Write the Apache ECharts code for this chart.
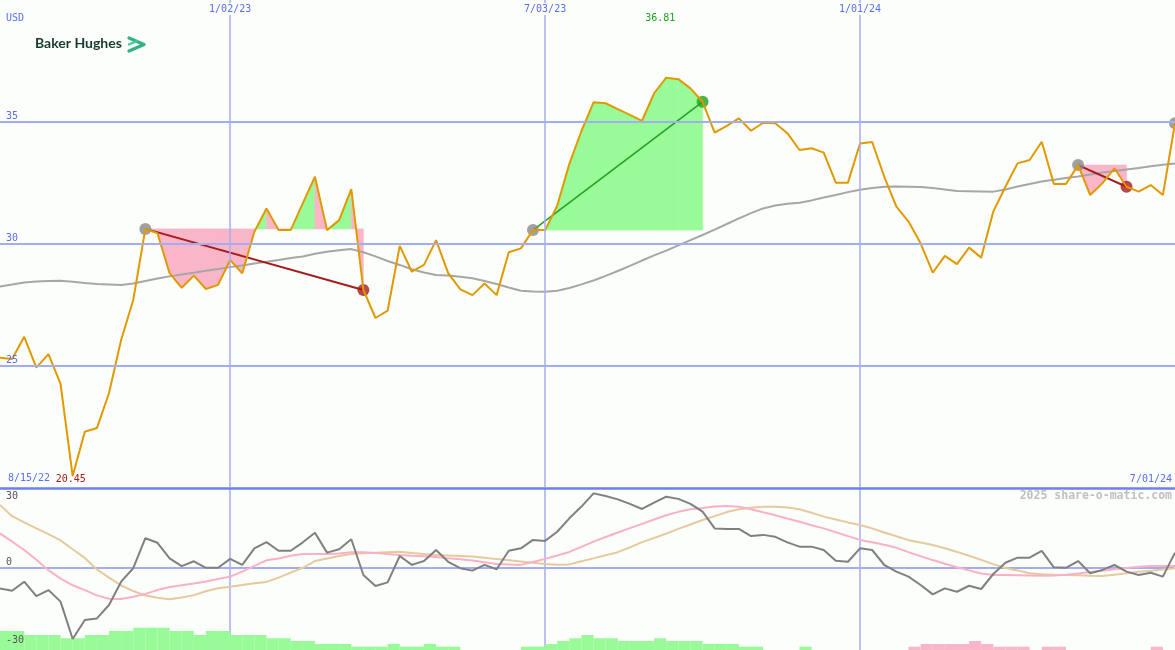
<!DOCTYPE html>
<html><head><meta charset="utf-8">
<script src="https://cdn.jsdelivr.net/npm/echarts@6/dist/echarts.min.js"></script>
<style>html,body{margin:0;padding:0;background:#fbfefb}#c{width:1175px;height:650px}</style>
</head><body><div id="c"></div>
<script>
const weeks = ['8/22/22','8/29/22','9/05/22','9/12/22','9/19/22','9/26/22','10/03/22','10/10/22','10/17/22','10/24/22','10/31/22','11/07/22','11/14/22','11/21/22','11/28/22','12/05/22','12/12/22','12/19/22','12/26/22',
'1/02/23','1/09/23','1/16/23','1/23/23','1/30/23','2/06/23','2/13/23','2/20/23','2/27/23','3/06/23','3/13/23','3/20/23','3/27/23','4/03/23','4/10/23','4/17/23','4/24/23','5/01/23','5/08/23','5/15/23','5/22/23','5/29/23','6/05/23','6/12/23','6/19/23','6/26/23',
'7/03/23','7/10/23','7/17/23','7/24/23','7/31/23','8/07/23','8/14/23','8/21/23','8/28/23','9/04/23','9/11/23','9/18/23','9/25/23','10/02/23','10/09/23','10/16/23','10/23/23','10/30/23','11/06/23','11/13/23','11/20/23','11/27/23','12/04/23','12/11/23','12/18/23','12/25/23',
'1/01/24','1/08/24','1/15/24','1/22/24','1/29/24','2/05/24','2/12/24','2/19/24','2/26/24','3/04/24','3/11/24','3/18/24','3/25/24','4/01/24','4/08/24','4/15/24','4/22/24','4/29/24','5/06/24','5/13/24','5/20/24','5/27/24','6/03/24','6/10/24','6/17/24','6/24/24','7/01/24'];

const price = [25.31,25.26,26.17,24.90,25.46,24.23,20.45,22.27,22.42,23.86,
26.04,27.68,30.60,30.42,28.78,28.18,28.68,28.13,28.30,29.32,
28.78,30.48,31.44,30.55,30.55,31.66,32.74,30.55,30.96,32.23,
28.09,26.94,27.24,29.90,28.84,29.12,30.14,28.78,28.12,27.88,
28.36,27.88,29.64,29.80,30.55,30.55,31.55,33.27,34.62,35.80,
35.76,35.52,35.28,35.04,36.17,36.81,36.75,36.37,35.82,34.55,
34.83,35.14,34.63,34.96,34.94,34.53,33.84,33.91,33.73,32.50,
32.50,34.11,34.17,32.74,31.51,30.90,30.01,28.80,29.49,29.15,
29.83,29.42,31.31,32.33,33.29,33.43,34.18,32.44,32.44,33.22,
31.99,32.47,33.09,32.33,32.13,32.40,31.99,34.94];

const movingAvg = [28.23,28.32,28.40,28.44,28.46,28.47,28.43,28.38,28.34,28.32,
28.30,28.36,28.46,28.56,28.65,28.73,28.80,28.88,28.95,29.03,
29.10,29.18,29.25,29.32,29.40,29.47,29.58,29.66,29.72,29.77,
29.64,29.47,29.28,29.12,28.94,28.81,28.71,28.69,28.63,28.57,
28.46,28.34,28.19,28.06,28.03,28.02,28.06,28.17,28.32,28.48,
28.67,28.87,29.08,29.30,29.51,29.71,29.92,30.14,30.35,30.57,
30.80,31.03,31.25,31.44,31.56,31.63,31.67,31.77,31.89,31.99,
32.11,32.21,32.28,32.33,32.34,32.33,32.32,32.28,32.22,32.16,
32.15,32.14,32.13,32.22,32.34,32.44,32.55,32.62,32.69,32.75,
32.83,32.92,32.98,33.04,33.10,33.17,33.23,33.29];

const oscillator = [-8.5,-9.5,-5.7,-11.7,-9.2,-14.0,-29.6,-21.7,-21.0,-15.4,
-5.7,-0.1,12.4,10.5,4.0,0.8,2.8,0.1,0.1,3.8,
1.3,8.2,10.8,7.2,7.2,10.7,14.7,6.4,7.8,12.0,
-2.9,-7.5,-6.0,5.0,1.3,2.9,7.5,2.6,-0.1,-1.1,
1.3,-0.5,7.2,8.2,11.7,11.3,15.1,20.7,25.6,31.1,
30.0,28.6,26.7,24.6,27.2,29.7,28.8,26.7,23.5,16.5,
16.3,16.3,13.3,13.8,13.0,10.7,8.9,8.9,7.5,3.0,
2.6,8.2,7.5,1.25,-1.5,-3.6,-7.1,-11.0,-8.5,-9.9,
-7.4,-8.75,-2.5,2.2,4.3,4.3,7.1,0.3,0.1,2.9,
-2.2,-0.8,1.25,-1.5,-2.9,-2.0,-3.6,6.4];

const signalFast = [14.4,11.0,7.5,3.4,-0.9,-4.4,-7.2,-9.2,-11.4,-12.8,
-12.9,-12.0,-10.8,-9.2,-7.9,-7.2,-6.5,-5.6,-4.6,-3.6,
-1.5,0.9,3.2,4.0,5.1,5.8,5.8,5.8,6.0,6.6,
6.6,6.2,5.8,5.4,5.1,4.9,4.6,4.1,3.6,3.1,
2.4,1.7,1.5,1.3,2.5,3.8,5.2,6.7,8.8,11.0,
12.9,14.8,16.6,18.4,20.2,22.0,23.4,24.5,25.0,25.6,
25.8,25.5,24.5,23.2,22.0,20.6,19.3,17.8,16.5,14.9,
13.3,11.7,10.7,9.7,8.4,6.6,4.9,3.3,1.8,0.3,
-1.0,-2.3,-2.9,-2.9,-3.0,-3.1,-3.2,-3.1,-2.8,-2.3,
-1.7,-1.1,-0.5,0.0,0.5,0.8,0.8,0.8];

const signalSlow = [26.25,21.6,19.0,16.5,14.1,11.5,7.8,4.2,-0.6,-4.0,
-7.3,-9.6,-11.5,-12.4,-13.0,-12.3,-11.3,-9.7,-8.4,-7.8,
-7.1,-6.4,-5.8,-4.0,-1.9,0.1,2.9,4.0,5.0,5.8,
6.1,6.4,6.6,6.8,6.3,5.8,5.4,5.2,5.0,4.8,
4.3,3.7,3.2,2.7,2.2,1.7,1.4,1.5,2.8,4.0,
5.3,6.6,8.6,10.8,12.5,14.3,16.3,18.1,20.0,21.6,
23.3,24.5,25.1,25.5,25.5,25.2,24.5,23.0,21.4,20.2,
19.0,17.9,16.5,14.8,13.2,11.6,10.6,9.6,8.2,6.7,
5.1,3.4,1.6,0.0,-1.0,-2.2,-2.6,-2.8,-2.9,-3.0,
-3.2,-3.3,-2.8,-2.2,-1.6,-1.1,-0.6,-0.1];

const histogram = [19,19,15,15,15,11.7,11.7,15,15,19,
19,22.3,22.3,22.3,19,19,15,19,19,15,
15,15,11.7,11.7,9,9,6,6,6,3.3,
3.3,3.3,6,3.3,3.3,6,3.3,3.3,0,0,
0,0,0,3.3,3.3,6,9,11.7,15,11.7,
11.7,9,9,9,11.7,9,9,9,6,6,
6,3.3,3.3,0,0,0,3.3,0,0,0,
0,0,0,0,0,-3.3,-6,-6,-6,-6,
-9,-6,-3.3,-3.3,-3.3,0,-3.3,-3.3,0,0,
0,0,0,0,0,-3.3,0];

const priceTicks = [25, 30, 35];
const oscTicks = [-30, 0, 30];
const gridDates = ['1/02/23', '7/03/23', '1/01/24'];
const tradeEntry = [12, 44, 89];
const tradeExit = [30, 58, 93];
const openEntry = 97;
const unitLabel = 'USD';
const startLabel = '8/15/22';
const endLabel = '7/01/24';
const watermark = '2025 share-o-matic.com';
const brand = 'Baker Hughes';

const BG = '#fbfefb', GRID = '#a4acf2', SEP = '#6f7ef0', LBL = '#5a6ef0';
const ORANGE = '#e09a00', MA = '#a6a6a6', GFILL = '#98fb98', PFILL = '#f9b6c8';
const DRED = '#a51c1c', GREEN = '#22a022', DOT = '#888888';
const OSC = '#808080', FAST = '#f9b0c8', SLOW = '#e6c99c';
const mono = '"DejaVu Sans Mono", monospace';

const trades = tradeEntry.map((s, i) => {
  const e = tradeExit[i];
  return { s, e, L: price[s], win: price[e] > price[s] };
});

const chart = echarts.init(document.getElementById('c'), null, { renderer: 'canvas' });

function fillRender(params, api) {
  const t = trades[params.dataIndex];
  const children = [];
  for (let k = t.s; k < t.e; k++) {
    const a = price[k], b = price[k + 1];
    const pa = api.coord([k, a]), pb = api.coord([k + 1, b]);
    const ya = api.coord([k, t.L])[1];
    const pts = [pa];
    if ((a - t.L) * (b - t.L) < 0) {
      const f = (t.L - a) / (b - a);
      pts.push([pa[0] + f * (pb[0] - pa[0]), ya]);
    }
    pts.push(pb);
    for (let j = 0; j < pts.length - 1; j++) {
      const p = pts[j], q = pts[j + 1];
      const above = (p[1] + q[1]) / 2 < ya;
      const col = !above ? PFILL : ((t.win || b > a) ? GFILL : PFILL);
      children.push({
        type: 'polygon',
        shape: { points: [p, q, [q[0], ya], [p[0], ya]] },
        style: { fill: col, stroke: col, lineWidth: 0.6 }
      });
    }
  }
  return { type: 'group', children };
}

const dotData = [];
trades.forEach(t => {
  dotData.push({ value: [t.s, t.L], itemStyle: { color: DOT } });
  dotData.push({ value: [t.e, price[t.e]], itemStyle: { color: t.win ? GREEN : DRED } });
});
dotData.push({ value: [openEntry, price[openEntry]], itemStyle: { color: DOT } });

const option = {
  backgroundColor: BG,
  animation: false,
  grid: [
    { left: 0, right: 0, top: 0, height: 487 },
    { left: 0, right: 0, top: 488, height: 162 },
    { left: 0, right: 0, top: 600, height: 50 }
  ],
  xAxis: [
    { type: 'category', gridIndex: 0, data: weeks, boundaryGap: false, position: 'top', z: 10,
      axisLine: { show: false }, axisTick: { show: false },
      axisLabel: { show: true, inside: true, margin: 3, verticalAlign: 'top',
        interval: (i, v) => gridDates.includes(v),
        color: LBL, fontFamily: mono, fontSize: 10,
        backgroundColor: BG, padding: [1, 2] },
      splitLine: { show: true, interval: (i, v) => gridDates.includes(v),
        lineStyle: { color: GRID, width: 1.5 } } },
    { type: 'category', gridIndex: 1, data: weeks, boundaryGap: false, position: 'top',
      axisLine: { show: true, onZero: false, lineStyle: { color: SEP, width: 2.5 } },
      axisTick: { show: false }, axisLabel: { show: false },
      splitLine: { show: true, interval: (i, v) => gridDates.includes(v),
        lineStyle: { color: GRID, width: 1.5 } } },
    { type: 'category', gridIndex: 2, data: weeks.slice(0, histogram.length), boundaryGap: true, show: false }
  ],
  yAxis: [
    { type: 'value', gridIndex: 0, min: 20, max: 40, interval: 5, z: 10,
      axisLine: { show: false }, axisTick: { show: false },
      axisLabel: { inside: true, margin: 6, align: 'left', verticalAlign: 'bottom',
        formatter: v => priceTicks.includes(v) ? String(v) : '',
        color: LBL, fontFamily: mono, fontSize: 10 },
      splitLine: { show: true, showMinLine: false, showMaxLine: false,
        lineStyle: { color: GRID, width: 2 } } },
    { type: 'value', gridIndex: 1, min: -34.1667, max: 33.3333, z: 10,
      axisLine: { show: false }, axisTick: { show: false },
      axisLabel: { inside: true, margin: 6, align: 'left', verticalAlign: 'middle',
        customValues: oscTicks,
        formatter: v => v === 0 ? '{z|0}' : String(v),
        rich: { z: { padding: [0, 0, 12, 0], color: '#555', fontFamily: mono, fontSize: 10 } },
        color: '#555', fontFamily: mono, fontSize: 10 },
      splitLine: { show: false } },
    { type: 'value', gridIndex: 2, min: 0, max: 50, show: false }
  ],
  series: [
    { type: 'custom', name: 'fills', xAxisIndex: 0, yAxisIndex: 0, z: 1, silent: true,
      data: trades.map(t => [t.s, t.L]), renderItem: fillRender },
    { type: 'line', name: 'avg', xAxisIndex: 0, yAxisIndex: 0, data: movingAvg, z: 2,
      showSymbol: false, symbol: 'none', silent: true, lineStyle: { color: MA, width: 2 } },
    ...trades.map(t => ({
      type: 'line', xAxisIndex: 0, yAxisIndex: 0, z: 3, silent: true,
      data: [[t.s, t.L], [t.e, price[t.e]]], showSymbol: false, symbol: 'none',
      lineStyle: { color: t.win ? GREEN : DRED, width: t.win ? 1.5 : 2 }
    })),
    { type: 'scatter', xAxisIndex: 0, yAxisIndex: 0, z: 4, silent: true,
      symbolSize: 12, data: dotData },
    { type: 'line', name: 'price', xAxisIndex: 0, yAxisIndex: 0, data: price, z: 5,
      showSymbol: false, symbol: 'none', silent: true, lineStyle: { color: ORANGE, width: 2 },
      markPoint: { symbol: 'circle', symbolSize: 1, silent: true,
        itemStyle: { color: 'rgba(0,0,0,0)' },
        data: [
          { type: 'max', label: { show: true, position: 'inside', offset: [-6, -59], color: GREEN,
            fontFamily: mono, fontSize: 10, formatter: p => p.value.toFixed(2) } },
          { type: 'min', label: { show: true, position: 'inside', offset: [-2, 3], color: DRED,
            fontFamily: mono, fontSize: 10, formatter: p => p.value.toFixed(2) } }
        ] } },
    { type: 'bar', xAxisIndex: 2, yAxisIndex: 2, z: 1, silent: true, barCategoryGap: '0%', barGap: '0%',
      data: histogram.map(v => ({ value: Math.abs(v), itemStyle: { color: v >= 0 ? GFILL : PFILL } })) },
    { type: 'line', name: 'slow', xAxisIndex: 1, yAxisIndex: 1, data: signalSlow, z: 3, clip: false,
      showSymbol: false, symbol: 'none', silent: true, lineStyle: { color: SLOW, width: 2 },
      markLine: { silent: true, symbol: 'none', label: { show: false }, z: 2,
        lineStyle: { color: GRID, width: 2, type: 'solid' }, data: [{ yAxis: 0 }] } },
    { type: 'line', name: 'fast', xAxisIndex: 1, yAxisIndex: 1, data: signalFast, z: 3, clip: false,
      showSymbol: false, symbol: 'none', silent: true, lineStyle: { color: FAST, width: 2 } },
    { type: 'line', name: 'osc', xAxisIndex: 1, yAxisIndex: 1, data: oscillator, z: 4, clip: false,
      showSymbol: false, symbol: 'none', silent: true, lineStyle: { color: OSC, width: 2 } }
  ],
  graphic: [
    { type: 'text', left: 6, top: 13, z: 10, style: { text: unitLabel, fill: LBL, font: '10px ' + mono } },
    { type: 'text', left: 8, top: 473, z: 10, style: { text: startLabel, fill: LBL, font: '10px ' + mono } },
    { type: 'text', right: 3, top: 474, z: 10, style: { text: endLabel, fill: LBL, font: '10px ' + mono } },
    { type: 'text', right: 3, top: 490, z: 10, style: { text: watermark, fill: '#c0c0c0', font: 'bold 11.5px ' + mono } },
    { type: 'text', left: 35, top: 36, z: 10, style: { text: brand, fill: '#173b2f', font: 'bold 14px Lato, "Open Sans", sans-serif' } },
    { type: 'polyline', z: 10, shape: { points: [[129, 38], [144, 44.5], [129, 51]] },
      style: { stroke: '#2fb383', lineWidth: 3.2, fill: null, lineJoin: 'round', lineCap: 'round' } },
    { type: 'line', z: 10, shape: { x1: 129, y1: 44.5, x2: 137, y2: 41 },
      style: { stroke: '#45c79a', lineWidth: 2.2, lineCap: 'round' } }
  ]
};
chart.setOption(option);
</script>
</body></html>
